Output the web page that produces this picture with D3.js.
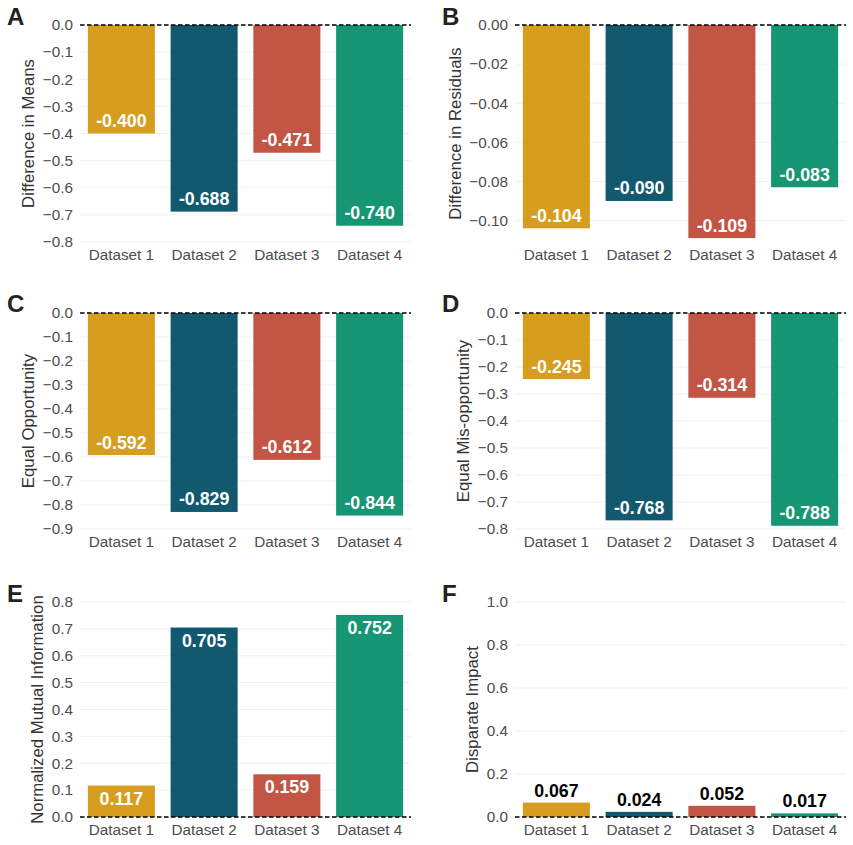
<!DOCTYPE html>
<html>
<head>
    <meta charset="utf-8">
    <title>Fairness metrics by dataset</title>
    <script src="https://d3js.org/d3.v7.min.js"></script>
    <style>
        html, body { margin: 0; background: #fff; }
        svg { display: block; font-family: "Liberation Sans", Arial, sans-serif; }
        .grid line { stroke: #efefef; stroke-width: 1; }
        .tick-label { fill: #4d4d4d; font-size: 15.3px; }
        .axis-title { fill: #333; font-size: 16.8px; }
        .panel-letter { fill: #222; font-size: 24px; font-weight: bold; }
        .value { font-size: 17.8px; font-weight: bold; }
        .zero { stroke: #000; stroke-width: 1.4; stroke-dasharray: 4.5,2.5; }
    </style>
</head>
<body>
    <svg width="853" height="845"></svg>
    <script>
        // data
        const datasets = ["Dataset 1", "Dataset 2", "Dataset 3", "Dataset 4"];
        const colors = ["#d69d1f", "#12596f", "#c35545", "#169673"];

        const diffMeans = [-0.400, -0.688, -0.471, -0.740];
        const diffResiduals = [-0.104, -0.090, -0.109, -0.083];
        const equalOpportunity = [-0.592, -0.829, -0.612, -0.844];
        const equalMisOpportunity = [-0.245, -0.768, -0.314, -0.788];
        const mutualInfo = [0.117, 0.705, 0.159, 0.752];
        const disparateImpact = [0.067, 0.024, 0.052, 0.017];

        const ticksA = [0, -0.1, -0.2, -0.3, -0.4, -0.5, -0.6, -0.7, -0.8];
        const ticksB = [0, -0.02, -0.04, -0.06, -0.08, -0.10];
        const ticksC = [0, -0.1, -0.2, -0.3, -0.4, -0.5, -0.6, -0.7, -0.8, -0.9];
        const ticksD = [0, -0.1, -0.2, -0.3, -0.4, -0.5, -0.6, -0.7, -0.8];
        const ticksE = [0, 0.1, 0.2, 0.3, 0.4, 0.5, 0.6, 0.7, 0.8];
        const ticksF = [0, 0.2, 0.4, 0.6, 0.8, 1.0];

        // layout of the 3x2 grid
        const cols = [{ left: 80, right: 411, letterX: 7 }, { left: 515, right: 846, letterX: 442 }];
        const rows = [{ top: 25, bottom: 242, letterY: 25 }, { top: 313, bottom: 529, letterY: 312 }, { top: 602, bottom: 817, letterY: 602 }];

        const panels = [
            { letter: "A", title: "Difference in Means", values: diffMeans, domain: [-0.8, 0], ticks: ticksA, fmt: ".1f", col: 0, row: 0 },
            { letter: "B", title: "Difference in Residuals", values: diffResiduals, domain: [-0.111, 0], ticks: ticksB, fmt: ".2f", col: 1, row: 0 },
            { letter: "C", title: "Equal Opportunity", values: equalOpportunity, domain: [-0.9, 0], ticks: ticksC, fmt: ".1f", col: 0, row: 1 },
            { letter: "D", title: "Equal Mis-opportunity", values: equalMisOpportunity, domain: [-0.8, 0], ticks: ticksD, fmt: ".1f", col: 1, row: 1 },
            { letter: "E", title: "Normalized Mutual Information", values: mutualInfo, domain: [0, 0.8], ticks: ticksE, fmt: ".1f", col: 0, row: 2 },
            { letter: "F", title: "Disparate Impact", values: disparateImpact, domain: [0, 1], ticks: ticksF, fmt: ".1f", col: 1, row: 2, outside: true }
        ];

        var svg = d3.select("svg");

        panels.forEach(function(p) {
            var c = cols[p.col], r = rows[p.row];
            var g = svg.append("g");

            var x = d3.scaleBand().domain(datasets).range([c.left, c.right])
                .paddingInner(0.19).paddingOuter(0.095);
            var y = d3.scaleLinear().domain(p.domain).range([r.bottom, r.top]);
            var fmt = d3.format(p.fmt);

            // horizontal grid
            g.append("g").attr("class", "grid")
                .selectAll("line").data(p.ticks).enter().append("line")
                .attr("x1", c.left).attr("x2", c.right)
                .attr("y1", d => y(d)).attr("y2", d => y(d));

            // y tick labels
            var yLabels = g.append("g");
            yLabels.selectAll("text").data(p.ticks).enter().append("text")
                .attr("class", "tick-label")
                .attr("x", c.left - 7)
                .attr("y", d => y(d))
                .attr("dy", "0.35em")
                .attr("text-anchor", "end")
                .text(d => fmt(d));

            // x tick labels
            g.append("g").selectAll("text").data(datasets).enter().append("text")
                .attr("class", "tick-label")
                .attr("x", d => x(d) + x.bandwidth() / 2)
                .attr("y", r.bottom + 13)
                .attr("dy", "0.35em")
                .attr("text-anchor", "middle")
                .text(d => d);

            // bars
            g.append("g").selectAll("rect").data(p.values).enter().append("rect")
                .attr("x", (d, i) => x(datasets[i]))
                .attr("width", x.bandwidth())
                .attr("y", d => y(Math.max(0, d)))
                .attr("height", d => Math.abs(y(d) - y(0)))
                .attr("fill", (d, i) => colors[i]);

            // value labels
            g.append("g").selectAll("text").data(p.values).enter().append("text")
                .attr("class", "value")
                .attr("x", (d, i) => x(datasets[i]) + x.bandwidth() / 2)
                .attr("y", function(d) {
                    if (p.outside) return y(d) - 6;
                    return d < 0 ? y(d) - 6.5 : y(d) + 19;
                })
                .attr("text-anchor", "middle")
                .attr("fill", p.outside ? "#000" : "#fff")
                .text(d => d.toFixed(3));

            // dashed zero line
            g.append("line").attr("class", "zero")
                .attr("x1", c.left).attr("x2", c.right)
                .attr("y1", y(0)).attr("y2", y(0));

            // axis title, left of the tick labels
            var bb = yLabels.node().getBBox();
            g.append("text")
                .attr("class", "axis-title")
                .attr("transform", "translate(" + (bb.x - 14) + "," + ((r.top + r.bottom) / 2) + ") rotate(-90)")
                .attr("text-anchor", "middle")
                .attr("dominant-baseline", "central")
                .text(p.title);

            // panel letter
            g.append("text")
                .attr("class", "panel-letter")
                .attr("x", c.letterX)
                .attr("y", r.letterY)
                .text(p.letter);
        });
    </script>
</body>
</html>
